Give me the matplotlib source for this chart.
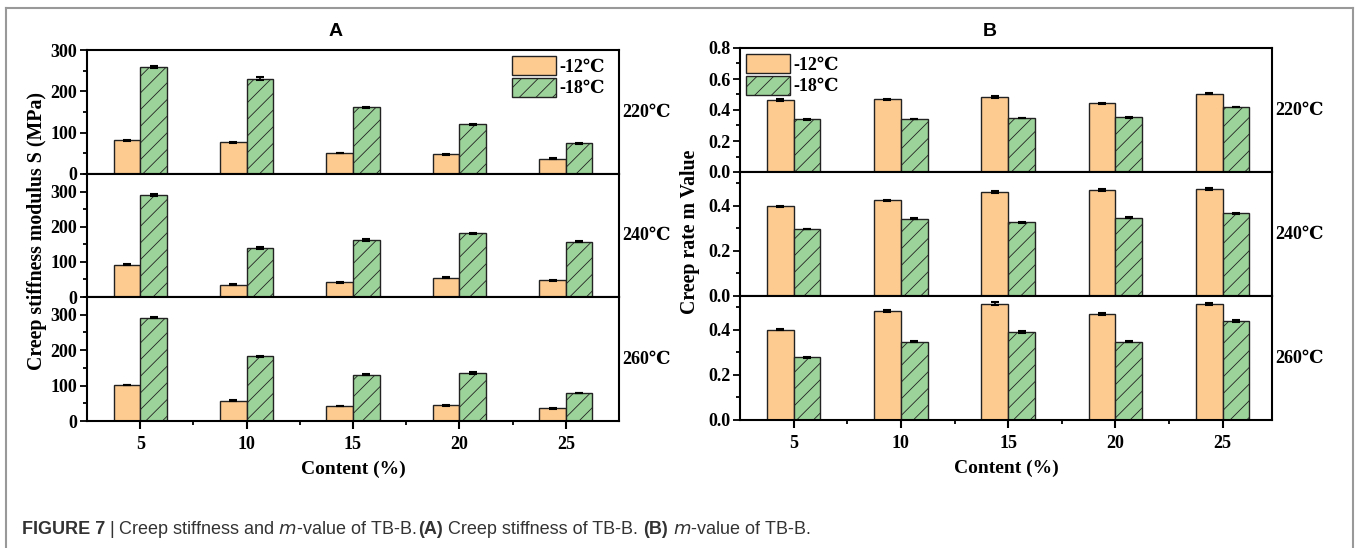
import matplotlib
matplotlib.use("Agg")
import matplotlib.pyplot as plt
import numpy as np
from matplotlib.ticker import MultipleLocator, FixedLocator
from matplotlib.lines import Line2D

plt.rcParams['font.family'] = ['Liberation Serif', 'DejaVu Serif']
plt.rcParams['hatch.linewidth'] = 0.6

contents = ['5', '10', '15', '20', '25']
series = ['-12\u2103', '-18\u2103']
temps = ['220\u2103', '240\u2103', '260\u2103']

# Creep stiffness S (MPa)
S_220_m12 = [82, 77, 51, 48, 37]
S_220_m18 = [259, 231, 161, 120, 74]
S_240_m12 = [92, 35, 42, 55, 47]
S_240_m18 = [291, 139, 163, 181, 157]
S_260_m12 = [102, 57, 42, 45, 36]
S_260_m18 = [292, 183, 130, 135, 79]
S_err_220_m12 = [1, 1, 1, 1, 1.5]
S_err_220_m18 = [3, 3, 1, 1, 1.5]
S_err_240_m12 = [1, 1, 1, 1, 1]
S_err_240_m18 = [2.5, 2, 3, 1, 1]
S_err_260_m12 = [1, 1, 1, 1.5, 1]
S_err_260_m18 = [2, 1, 1.5, 2, 1]

# m-value
m_220_m12 = [0.465, 0.469, 0.484, 0.443, 0.506]
m_220_m18 = [0.339, 0.342, 0.348, 0.352, 0.419]
m_240_m12 = [0.397, 0.425, 0.462, 0.470, 0.474]
m_240_m18 = [0.297, 0.342, 0.327, 0.348, 0.366]
m_260_m12 = [0.400, 0.484, 0.516, 0.471, 0.516]
m_260_m18 = [0.279, 0.348, 0.390, 0.348, 0.439]
m_err_220_m12 = [0.004, 0.002, 0.004, 0.003, 0.006]
m_err_220_m18 = [0.002, 0.002, 0.002, 0.002, 0.002]
m_err_240_m12 = [0.003, 0.003, 0.005, 0.003, 0.003]
m_err_240_m18 = [0.002, 0.002, 0.002, 0.003, 0.003]
m_err_260_m12 = [0.002, 0.003, 0.007, 0.004, 0.005]
m_err_260_m18 = [0.002, 0.002, 0.003, 0.002, 0.003]

S_data = [(S_220_m12, S_220_m18, S_err_220_m12, S_err_220_m18),
          (S_240_m12, S_240_m18, S_err_240_m12, S_err_240_m18),
          (S_260_m12, S_260_m18, S_err_260_m12, S_err_260_m18)]
m_data = [(m_220_m12, m_220_m18, m_err_220_m12, m_err_220_m18),
          (m_240_m12, m_240_m18, m_err_240_m12, m_err_240_m18),
          (m_260_m12, m_260_m18, m_err_260_m12, m_err_260_m18)]

W, H = 1359, 548
fig = plt.figure(figsize=(W / 100, H / 100), dpi=100)

C_OR = '#FDCB90'
C_GR = '#9CD39A'
FS = 13

def px_axes(x0, x1, y0, y1):
    return fig.add_axes([x0 / W, 1 - y1 / H, (x1 - x0) / W, (y1 - y0) / H])

x = np.arange(len(contents))
bw = 0.25

def draw_panel(x0, x1, ys, data, ylims, yticks, minor, xlim, fmt, title, title_x, ylabel, ylabel_x, ylabel_y, temp_x, legend_loc, legend_anchor):
    axes = []
    for i in range(3):
        ax = px_axes(x0, x1, ys[i], ys[i + 1])
        a, b, ea, eb = data[i]
        b1 = ax.bar(x - bw / 2, a, bw, color=C_OR, edgecolor='#222222', linewidth=1.0,
                    yerr=ea, error_kw=dict(ecolor='black', elinewidth=1.2, capsize=3, capthick=1.5),
                    label=series[0], zorder=2)
        b2 = ax.bar(x + bw / 2, b, bw, color=C_GR, edgecolor='#222222', linewidth=1.0, hatch='//',
                    yerr=eb, error_kw=dict(ecolor='black', elinewidth=1.2, capsize=3, capthick=1.5),
                    label=series[1], zorder=2)
        ax.set_xlim(*xlim)
        ax.set_ylim(*ylims[i])
        ax.yaxis.set_major_locator(FixedLocator(yticks[i]))
        ax.yaxis.set_minor_locator(MultipleLocator(minor))
        ax.yaxis.set_major_formatter(matplotlib.ticker.FuncFormatter(lambda v, p: fmt.format(v)))
        ax.tick_params(axis='y', which='major', direction='out', length=5, width=1.3, labelsize=FS, pad=2)
        ax.tick_params(axis='y', which='minor', direction='out', length=3, width=1.3)
        for t in ax.get_yticklabels():
            t.set_fontweight('bold')
        for sp in ax.spines.values():
            sp.set_linewidth(1.5)
        if i < 2:
            ax.tick_params(axis='x', which='both', bottom=False, labelbottom=False)
        else:
            ax.set_xticks(x)
            ax.set_xticklabels(contents, fontweight='bold', fontsize=FS)
            ax.xaxis.set_minor_locator(FixedLocator(x[:-1] + 0.5))
            ax.tick_params(axis='x', which='major', direction='out', length=6, width=1.5, pad=5)
            ax.tick_params(axis='x', which='minor', direction='out', length=3, width=1.3)
            ax.set_xlabel('Content (%)', fontsize=FS + 1, fontweight='bold', labelpad=5)
        yc = (ys[i] + ys[i + 1]) / 2
        fig.text(temp_x / W, 1 - yc / H, temps[i], fontsize=FS, fontweight='bold', va='center', ha='left')
        if i == 0:
            ax.legend(handles=[b1.patches[0], b2.patches[0]], labels=series, loc=legend_loc,
                      bbox_to_anchor=legend_anchor, frameon=False,
                      prop=dict(weight='bold', size=FS),
                      handlelength=2.4, handleheight=1.25, handletextpad=0.2, labelspacing=0.1,
                      borderaxespad=0.15, borderpad=0.2)
        axes.append(ax)
    fig.text(title_x / W, 1 - 32 / H, title, fontsize=14, family='Liberation Sans', fontweight='bold',
             ha='center', va='center')
    fig.text(ylabel_x / W, 1 - ylabel_y / H, ylabel, fontsize=14.3, fontweight='bold',
             rotation=90, ha='center', va='center')
    return axes

draw_panel(87, 619, [50, 174, 297, 421], S_data,
           [(0, 300), (0, 350), (0, 350)],
           [[0, 100, 200, 300], [0, 100, 200, 300], [0, 100, 200, 300]], 50,
           (-0.5, 4.5), '{:.0f}', 'A', 336,
           'Creep stiffness modulus S (MPa)', 37, 231, 622, 'upper right', (0.985, 1.0))

draw_panel(740, 1272, [48, 172, 296, 420], m_data,
           [(0, 0.8), (0, 0.55), (0, 0.55)],
           [[0, 0.2, 0.4, 0.6, 0.8], [0, 0.2, 0.4], [0, 0.2, 0.4]], 0.1,
           (-0.5, 4.46), '{:.1f}', 'B', 990,
           'Creep rate m Value', 690, 232, 1275, 'upper left', (0.0, 1.0))

# figure border
border = dict(color='#999999', linewidth=1.5, transform=fig.transFigure)
fig.add_artist(Line2D([6 / W, 6 / W], [0, 1 - 8 / H], **border))
fig.add_artist(Line2D([1353 / W, 1353 / W], [0, 1 - 8 / H], **border))
fig.add_artist(Line2D([6 / W, 1353 / W], [1 - 8 / H, 1 - 8 / H], **border))

# caption
cap_y = 1 - 529 / H
CF = 13
CFAM = ['Liberation Sans']
parts = [('FIGURE 7', 'bold', 0), (r'| Creep stiffness and $\it{m}$-value of TB-B. ', 'normal', 4),
         ('(A)', 'bold', 0), (' Creep stiffness of TB-B. ', 'normal', 0),
         ('(B)', 'bold', 0), (r' $\it{m}$-value of TB-B.', 'normal', 0)]
fig.canvas.draw()
r = fig.canvas.get_renderer()
xpos = 22
for txt, wt, gap in parts:
    t = fig.text((xpos + gap) / W, cap_y, txt, fontsize=CF, family=CFAM, fontweight=wt,
                 color='#333333', va='center', ha='left')
    xpos = t.get_window_extent(r).x1

fig.savefig('out.png', dpi=100)
